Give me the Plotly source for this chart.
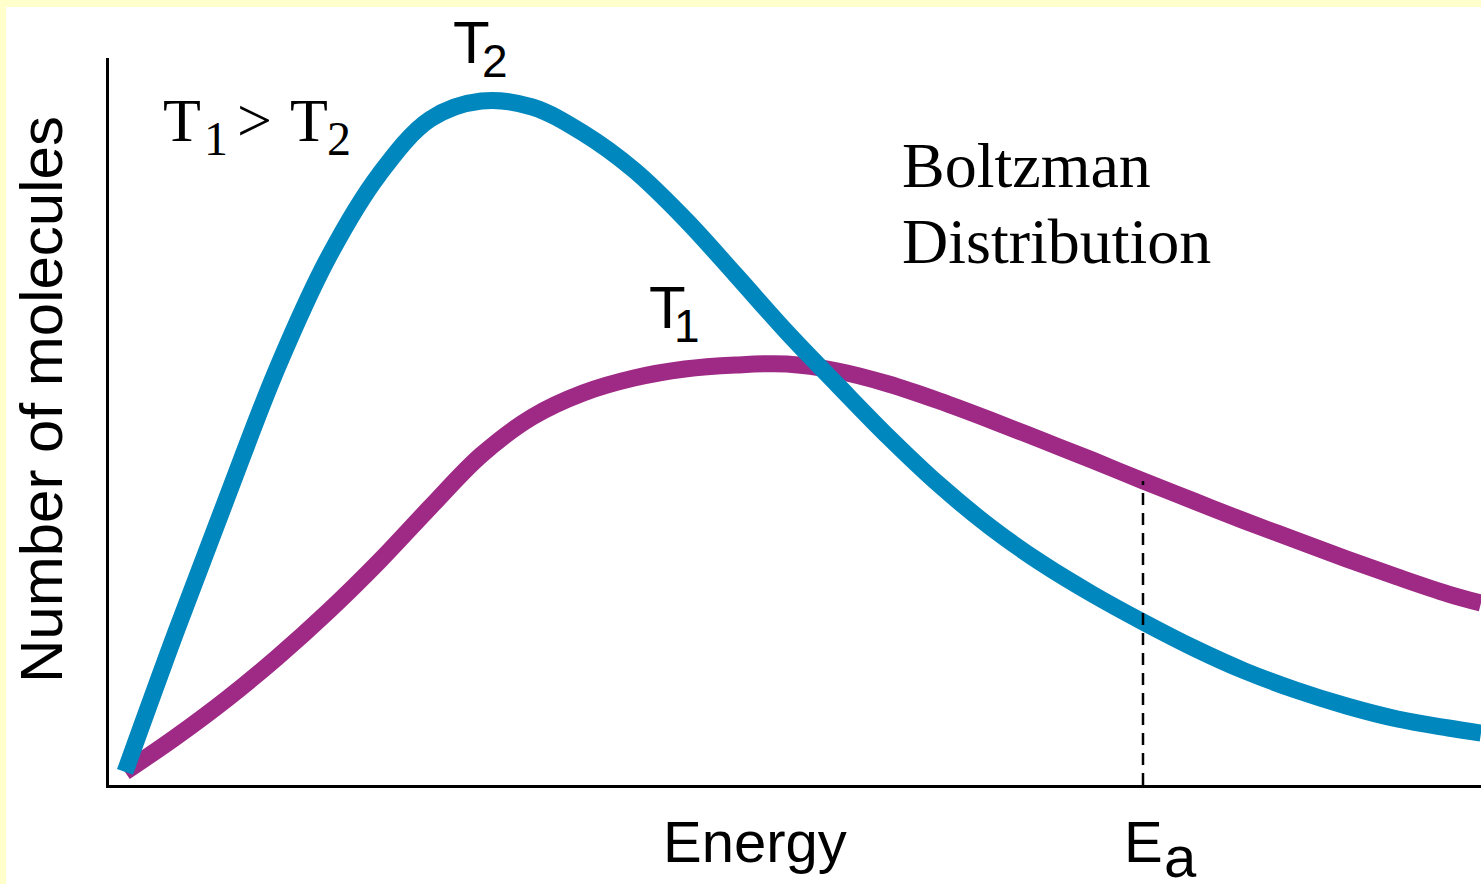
import plotly.graph_objects as go

# ---------------- data ----------------
# energy in arbitrary units (Ea = 10), number of molecules in arbitrary units (0-100)
energy = [0.0, 0.5, 1.0, 1.5, 2.0, 2.5, 3.0, 3.5, 4.0, 4.5, 5.0, 5.5, 6.0, 6.5,
          7.0, 7.5, 8.0, 8.5, 9.0, 9.5, 10.0, 10.5, 11.0, 11.5, 12.0, 12.5, 13.0, 13.32]

t2_count = [1.79, 21.05, 39.48, 57.50, 72.63, 84.04, 91.61, 94.09, 93.26, 89.68,
            84.59, 77.85, 70.15, 62.31, 55.02, 47.87, 41.27, 35.49, 30.54, 26.27,
            22.42, 18.84, 15.68, 13.07, 10.87, 9.08, 7.84, 7.15]

t1_count = [1.79, 6.60, 11.83, 17.61, 23.93, 30.81, 38.24, 45.39, 50.62, 53.92,
            55.98, 57.22, 57.77, 57.91, 56.95, 55.16, 52.82, 50.21, 47.46, 44.70,
            41.82, 39.06, 36.31, 33.70, 31.09, 28.61, 26.27, 25.03]

ea_energy = 10.0
ea_count = t1_count[energy.index(ea_energy)]

x_title = "Energy"
y_title = "Number of molecules"

# ---------------- layout geometry ----------------
W, H = 1481, 884
L, R, T, B = 109, 0, 58, 99
PW, PH = W - L - R, H - T - B

BLUE = "#0087BD"
PURPLE = "#9E2A86"
YELLOW = "#FFFFCC"

SANS = "Liberation Sans, Arial, sans-serif"
SERIF = "Liberation Serif, Times New Roman, serif"


def px(xp):
    return (xp - L) / PW


def py(yp):
    return (H - B - yp) / PH


def label(text, left, baseline, size, family, xanchor="left"):
    asc, desc = (0.891, 0.216) if family == SERIF else (0.905, 0.212)
    center = baseline - (asc - desc) / 2 * size
    return dict(text=text, x=px(left), y=py(center), xref="paper", yref="paper",
                xanchor=xanchor, yanchor="middle", showarrow=False,
                font=dict(family=family, size=size, color="black"), borderpad=0)


fig = go.Figure()
fig.add_trace(go.Scatter(x=energy, y=t1_count, mode="lines",
                         line=dict(color=PURPLE, width=17, shape="spline", smoothing=1.0),
                         hoverinfo="skip", showlegend=False))
fig.add_trace(go.Scatter(x=energy, y=t2_count, mode="lines",
                         line=dict(color=BLUE, width=17, shape="spline", smoothing=1.0),
                         hoverinfo="skip", showlegend=False))
fig.add_trace(go.Scatter(x=[ea_energy, ea_energy], y=[0, ea_count], mode="lines",
                         line=dict(color="black", width=2.5, dash="12px,8px"),
                         hoverinfo="skip", showlegend=False))

x0 = energy[0]
scale = (ea_energy - x0) / (1143 - 125)
xr = [x0 + (L - 125) * scale, x0 + (W - R - 125) * scale]

fig.update_xaxes(range=xr, showline=True, linecolor="black", linewidth=3,
                 showgrid=False, zeroline=False, ticks="", showticklabels=False)
fig.update_yaxes(range=[0, 100], showline=True, linecolor="black", linewidth=3,
                 showgrid=False, zeroline=False, ticks="", showticklabels=False)

annotations = [
    # T1 > T2 (serif)
    label("T", 162, 141, 62, SERIF),
    label("1", 203, 155, 48, SERIF),
    label(">", 236, 141, 62, SERIF),
    label("T", 289, 141, 62, SERIF),
    label("2", 326, 155, 48, SERIF),
    label("Boltzman", 901, 187, 64, SERIF),
    label("Distribution", 901, 263, 64, SERIF),
    label("T", 452, 63, 60, SANS),
    label("2", 481, 77, 46, SANS),
    label("T", 648, 328, 60, SANS),
    label("1", 673, 342, 46, SANS),
    label(x_title, 755, 862, 58, SANS, xanchor="center"),
    label("E", 1123, 862, 58, SANS),
    label("a", 1163, 877, 58, SANS),
]
yt = dict(text=y_title, x=px(41), y=py(400), xref="paper", yref="paper",
          xanchor="center", yanchor="middle", showarrow=False, textangle=-90,
          font=dict(family=SANS, size=60, color="black"))
annotations.append(yt)

shapes = [
    dict(type="rect", xref="paper", yref="paper", x0=px(0), x1=px(W), y0=py(7), y1=py(0),
         fillcolor=YELLOW, line=dict(width=0), layer="below"),
    dict(type="rect", xref="paper", yref="paper", x0=px(0), x1=px(6), y0=py(H), y1=py(0),
         fillcolor=YELLOW, line=dict(width=0), layer="below"),
]

fig.update_layout(width=W, height=H, margin=dict(l=L, r=R, t=T, b=B, pad=0),
                  paper_bgcolor="white", plot_bgcolor="white",
                  annotations=annotations, shapes=shapes, showlegend=False)

fig.write_html("out.html", config={"displayModeBar": False},
               post_script="document.body.style.margin='0';document.body.style.overflow='hidden';")
